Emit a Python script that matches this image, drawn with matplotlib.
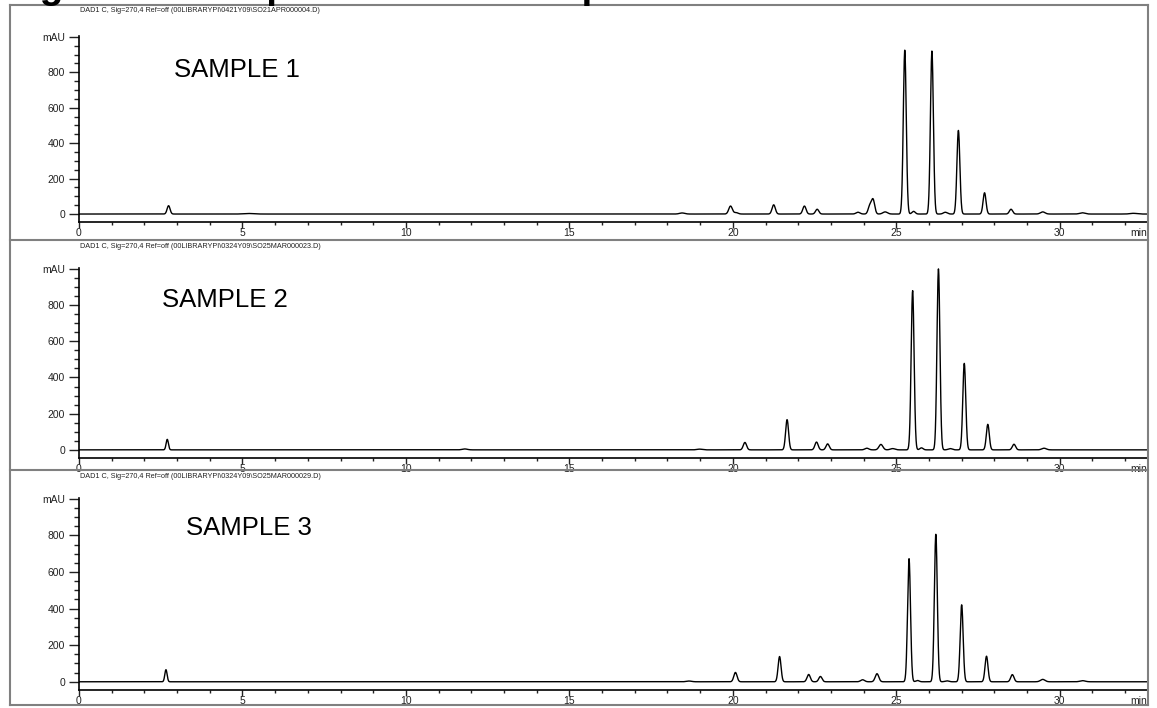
import numpy as np
import matplotlib
matplotlib.use('Agg')
import matplotlib.pyplot as plt
from matplotlib.lines import Line2D

# peak tables: retention time (min), height (mAU), width (sigma, min)
s1_rt = [2.74, 5.2, 18.45, 19.93, 20.1, 21.25, 22.19, 22.58, 23.83, 24.19, 24.29, 24.66,
         25.26, 25.53, 26.09, 26.5, 26.9, 27.7, 28.51, 29.48, 30.69, 32.25]
s1_h = [47, 3, 6, 45, 8, 52, 45, 27, 10, 45, 80, 12,
        925, 15, 920, 10, 472, 120, 27, 12, 7, 4]
s1_w = [0.045, 0.15, 0.08, 0.055, 0.06, 0.05, 0.05, 0.05, 0.06, 0.05, 0.05, 0.07,
        0.045, 0.05, 0.045, 0.06, 0.045, 0.045, 0.05, 0.07, 0.08, 0.1]

s2_rt = [2.7, 11.8, 18.98, 20.37, 21.66, 22.56, 22.9, 24.1, 24.53, 24.89,
         25.5, 25.77, 26.29, 26.65, 27.08, 27.8, 28.6, 29.52]
s2_h = [58, 5, 4, 41, 167, 43, 33, 9, 30, 7,
        880, 11, 1000, 7, 478, 141, 31, 9]
s2_w = [0.035, 0.08, 0.08, 0.05, 0.045, 0.05, 0.05, 0.06, 0.06, 0.07,
        0.045, 0.05, 0.045, 0.06, 0.045, 0.045, 0.05, 0.07]

s3_rt = [2.66, 18.66, 20.08, 21.43, 22.32, 22.68, 23.97, 24.41,
         25.39, 25.65, 26.21, 26.55, 27.0, 27.76, 28.55, 29.48, 30.7]
s3_h = [66, 4, 51, 138, 40, 29, 11, 44,
        673, 7, 807, 5, 421, 140, 39, 13, 6]
s3_w = [0.035, 0.08, 0.05, 0.045, 0.05, 0.05, 0.06, 0.055,
        0.045, 0.05, 0.045, 0.06, 0.045, 0.045, 0.05, 0.07, 0.08]

headers = ['DAD1 C, Sig=270,4 Ref=off (00LIBRARYPI\\0421Y09\\SO21APR000004.D)',
           'DAD1 C, Sig=270,4 Ref=off (00LIBRARYPI\\0324Y09\\SO25MAR000023.D)',
           'DAD1 C, Sig=270,4 Ref=off (00LIBRARYPI\\0324Y09\\SO25MAR000029.D)']
labels = ['SAMPLE 1', 'SAMPLE 2', 'SAMPLE 3']
ytick_vals = [0, 200, 400, 600, 800, 1000]
ytick_labels = ['0', '200', '400', '600', '800', 'mAU']
xtick_vals = [0, 5, 10, 15, 20, 25, 30]

W, H = 1157, 708
plt.rcParams['font.family'] = ['Liberation Sans', 'DejaVu Sans']

fig = plt.figure(figsize=(W / 100, H / 100), dpi=100)


def fx(px):
    return px / W


def fy(py):
    return 1 - py / H


def trace(t, rt, h, w):
    y = np.zeros_like(t)
    for r, a, s in zip(rt, h, w):
        y += a * np.exp(-0.5 * ((t - r) / s) ** 2)
    return y


t = np.linspace(0, 32.7, 8000)
samples = [(s1_rt, s1_h, s1_w), (s2_rt, s2_h, s2_w), (s3_rt, s3_h, s3_w)]
# axes boxes in pixels: (top, bottom), header y, label position
boxes = [(36, 222), (268, 458), (498, 690)]
header_y = [11, 246, 476]
label_pos = [(174, 70), (162, 300), (186, 528)]
tc = '#222222'

for i, (rt, h, w) in enumerate(samples):
    top, bot = boxes[i]
    ax = fig.add_axes([fx(79), fy(bot), fx(1148 - 79), (bot - top) / H])
    ax.plot(t, trace(t, rt, h, w), color='black', lw=1.0)
    ax.set_xlim(0, 32.7)
    ax.set_ylim(-45, 1005)
    for sp in ['top', 'right']:
        ax.spines[sp].set_visible(False)
    ax.spines['left'].set_linewidth(1.2)
    ax.spines['bottom'].set_linewidth(1.2)
    ax.set_yticks(ytick_vals)
    ax.set_yticklabels(ytick_labels)
    ax.set_yticks(np.arange(0, 1001, 50), minor=True)
    ax.set_xticks(xtick_vals)
    ax.set_xticks(np.arange(0, 33, 1), minor=True)
    ax.tick_params(axis='y', which='major', length=7, width=1, labelsize=7.5, pad=3, colors=tc)
    ax.tick_params(axis='y', which='minor', length=3.5, width=1, colors=tc)
    ax.tick_params(axis='x', which='major', length=4, width=1, labelsize=7.5, pad=0.5, colors=tc)
    ax.tick_params(axis='x', which='minor', length=2.5, width=1, colors=tc)
    ax.patch.set_alpha(0)
    ax.annotate('min', xy=(1, 0), xycoords='axes fraction', xytext=(-1, -4.5),
                textcoords='offset points', ha='right', va='top', fontsize=7.5, color=tc)
    fig.text(fx(80), fy(header_y[i]), headers[i], fontsize=5.2,
             ha='left', va='center', color=tc)
    lx, ly = label_pos[i]
    fig.text(fx(lx), fy(ly), labels[i], fontsize=18.5, ha='left', va='center')

# outer frame and panel separators
frame = '#808080'
for y in [5, 240, 470, 705]:
    fig.add_artist(Line2D([fx(10), fx(1148)], [fy(y), fy(y)], color=frame, lw=1.5))
for x in [10, 1148]:
    fig.add_artist(Line2D([fx(x), fx(x)], [fy(5), fy(705)], color=frame, lw=1.5))

# caption cut off at the top edge, as in the source scan
fig.text(fx(5), fy(-2), 'Figure 2: Comparison of HPLC profiles', fontsize=28,
         fontweight='bold', ha='left', va='baseline')

fig.savefig('out.png', dpi=100)
